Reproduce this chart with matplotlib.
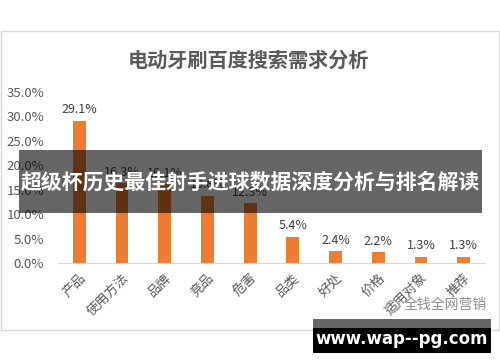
import matplotlib.pyplot as plt
from matplotlib.patches import Rectangle, Circle

plt.rcParams['font.family'] = ['Noto Sans CJK SC', 'DejaVu Sans']

# 数据
categories = ['产品', '使用方法', '品牌', '竞品', '危害', '品类', '好处', '价格', '适用对象', '推荐']
values = [29.1, 16.3, 16.1, 13.8, 12.3, 5.4, 2.4, 2.2, 1.3, 1.3]
yticks = [0, 5, 10, 15, 20, 25, 30, 35]

W, H = 500, 362
fig = plt.figure(figsize=(W / 100, H / 100), dpi=100)

def px(x, y):
    # pixel (from top-left) to figure fraction
    return x / W, 1 - y / H

# marco del gráfico
fig.patches.append(Rectangle(px(0.5, 330), 498.5 / W, 299 / H, transform=fig.transFigure,
                             facecolor='white', edgecolor='#d9d9d9', lw=1, zorder=0))

fig.text(*px(248, 60), '电动牙刷百度搜索需求分析', ha='center', va='center',
         fontsize=14.5, fontweight='bold', color='#595959')

ax = fig.add_axes([58 / W, (H - 263) / H, 427 / W, 171 / H])
ax.set_zorder(2)
x = range(len(categories))
ax.bar(x, values, width=0.3, color='#ed7d31')
for i, v in enumerate(values):
    ax.text(i, v + 0.9, f'{v:.1f}%', ha='center', va='bottom', fontsize=9, color='#404040')

ax.set_xlim(-0.5, len(categories) - 0.5)
ax.set_ylim(0, 35)
ax.set_yticks(yticks)
ax.set_yticklabels([f'{t:.1f}%' for t in yticks], fontsize=9.5, color='#595959')
ax.set_xticks(list(x))
ax.set_xticklabels(categories, rotation=45, ha='right', rotation_mode='anchor',
                   fontsize=9.5, color='#595959')
ax.tick_params(length=0, pad=6)
ax.tick_params(axis='y', pad=10)
for s in ['top', 'right', 'left']:
    ax.spines[s].set_visible(False)
ax.spines['bottom'].set_color('#d9d9d9')
ax.patch.set_alpha(0)

# marca de agua
fig.text(*px(445, 305), '全钱全网营销', ha='center', va='center', fontsize=10, color='#8c8c8c',
         zorder=3)
fig.patches.append(Circle(px(393, 306), 7 / W, transform=fig.transFigure,
                          facecolor='none', edgecolor='#b0b0b0', lw=1, zorder=3))

# banner superpuesto
fig.patches.append(Rectangle(px(19, 213), 463 / W, 63 / H, transform=fig.transFigure,
                             facecolor='black', alpha=0.6, edgecolor='none', zorder=5))
fig.text(*px(250, 182), '超级杯历史最佳射手进球数据深度分析与排名解读', ha='center', va='center',
         fontsize=15, fontweight='bold', color='white', zorder=6)

# caja inferior
fig.patches.append(Rectangle(px(313, 353), 178 / W, 25 / H, transform=fig.transFigure,
                             facecolor='black', edgecolor='none', zorder=5))
fig.patches.append(Rectangle(px(313, 328), 178 / W, 9 / H, transform=fig.transFigure,
                             facecolor='#666666', edgecolor='none', zorder=5))
fig.text(*px(402, 339), 'www.wap--pg.com', ha='center', va='center', fontsize=12,
         fontweight='bold', color='white', family='DejaVu Sans', zorder=6)

fig.savefig('out.png', dpi=100)
